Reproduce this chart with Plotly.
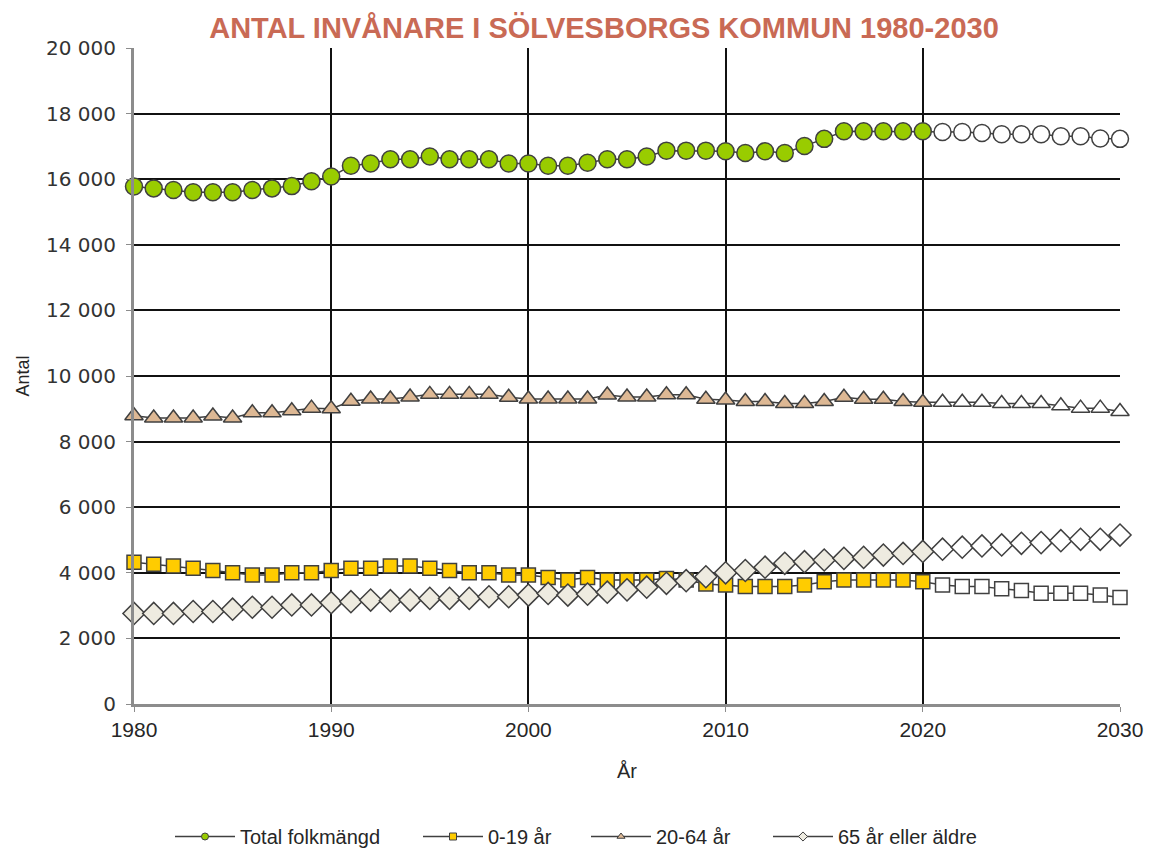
import plotly.graph_objects as go

years = list(range(1980, 2031))

total = [15780, 15720, 15670, 15600, 15600, 15600, 15670, 15720, 15790, 15940,
         16080, 16410, 16480, 16610, 16610, 16690, 16610, 16610, 16610, 16480,
         16480, 16410, 16410, 16500, 16610, 16610, 16690, 16870, 16870, 16870,
         16850, 16800, 16850, 16800, 17010, 17230, 17460, 17460, 17460, 17460,
         17460, 17440, 17440, 17410, 17370, 17370, 17370, 17310, 17310, 17240,
         17230]

age_0_19 = [4320, 4260, 4210, 4140, 4070, 4000, 3930, 3930, 4000, 4000,
            4070, 4140, 4140, 4210, 4210, 4140, 4070, 4000, 4000, 3930,
            3930, 3860, 3780, 3860, 3780, 3780, 3780, 3830, 3780, 3660,
            3630, 3580, 3580, 3580, 3630, 3730, 3780, 3780, 3780, 3780,
            3730, 3630, 3580, 3580, 3510, 3460, 3380, 3380, 3380, 3320,
            3250]

age_20_64 = [8790, 8720, 8720, 8720, 8780, 8720, 8880, 8880, 8940, 9020,
             9000, 9230, 9300, 9300, 9360, 9440, 9440, 9440, 9440, 9350,
             9300, 9300, 9300, 9300, 9420, 9360, 9360, 9430, 9430, 9290,
             9270, 9220, 9220, 9160, 9160, 9220, 9350, 9290, 9290, 9220,
             9200, 9200, 9200, 9200, 9160, 9160, 9160, 9090, 9020, 9020,
             8920]

age_65 = [2760, 2760, 2760, 2820, 2820, 2890, 2950, 2950, 3020, 3020,
          3090, 3120, 3170, 3150, 3170, 3220, 3220, 3220, 3270, 3270,
          3320, 3370, 3320, 3350, 3410, 3480, 3560, 3680, 3760, 3880,
          4000, 4070, 4170, 4290, 4340, 4390, 4440, 4470, 4540, 4590,
          4650, 4720, 4780, 4820, 4850, 4900, 4920, 4980, 5020, 5020,
          5150]

series_names = ["Total folkmängd", "0-19 år", "20-64 år", "65 år eller äldre"]
last_observed_year = 2020

title_text = "ANTAL INVÅNARE I SÖLVESBORGS KOMMUN 1980-2030"
x_title = "År"
y_title = "Antal"
x_ticks = [1980, 1990, 2000, 2010, 2020, 2030]
y_ticks = list(range(0, 20001, 2000))

LINE = "#404040"
TXT = "#262626"
NARROW = "Liberation Sans, Arial, sans-serif"
styles = [
    dict(symbol="circle", size=17, fill="#99CC00"),
    dict(symbol="square", size=14, fill="#FFCC00"),
    dict(symbol="triangle-up", size=16, fill="#DDB894"),
    dict(symbol="diamond", size=17, fill="#EEEBE0"),
]
legend_ids = ["legend", "legend2", "legend3", "legend4"]
legend_left_px = [180, 428, 596, 778]

fig = go.Figure()
for name, vals, st in zip(series_names, [total, age_0_19, age_20_64, age_65], styles):
    colors = [st["fill"] if y <= last_observed_year else "#FFFFFF" for y in years]
    fig.add_trace(go.Scatter(
        x=years, y=vals, mode="lines+markers", name=name, showlegend=False,
        line=dict(color=LINE, width=1.5),
        marker=dict(symbol=st["symbol"], size=st["size"], color=colors,
                    line=dict(color=LINE, width=1.5)),
        cliponaxis=False,
    ))
for name, st, lid in zip(series_names, styles, legend_ids):
    fig.add_trace(go.Scatter(
        x=[None], y=[None], mode="lines+markers", name=name, showlegend=True,
        legend=lid,
        line=dict(color=LINE, width=1.5),
        marker=dict(symbol=st["symbol"], size=7, color=st["fill"],
                    line=dict(color=LINE, width=1)),
    ))

legend_layout = {}
for lid, px in zip(legend_ids, legend_left_px):
    legend_layout[lid] = dict(
        orientation="h", xref="container", yref="container",
        x=(px - 8 - 10) / 1152, xanchor="left", y=0.0, yanchor="bottom",
        font=dict(family=NARROW, size=20, color=TXT),
        itemwidth=60, bgcolor="rgba(0,0,0,0)")

fig.update_layout(
    width=1152, height=848,
    paper_bgcolor="white", plot_bgcolor="white",
    margin=dict(l=126, r=40, t=40, b=152),
    separators=", ",
    title=dict(text=title_text, x=(604 - 8) / 1152, xanchor="center",
               y=1 - (28 - 8) / 848, yanchor="middle",
               font=dict(family=NARROW, size=29, color="#C96A55", weight="bold")),
    showlegend=True,
    **legend_layout,
)
fig.update_xaxes(range=[1980, 2030], tickvals=x_ticks,
                 showgrid=True, gridcolor="#111111", gridwidth=1.5,
                 showline=True, linecolor="#8C8C8C", linewidth=3,
                 ticks="outside", ticklen=5, tickcolor="#8C8C8C",
                 tickfont=dict(family=NARROW, size=21, color=TXT),
                 title=dict(text=x_title, font=dict(family=NARROW, size=20, color=TXT),
                            standoff=24),
                 zeroline=False, mirror=False)
fig.update_yaxes(range=[0, 20000], tickvals=y_ticks, tickformat=",d",
                 showgrid=True, gridcolor="#111111", gridwidth=1.5,
                 showline=True, linecolor="#8C8C8C", linewidth=3,
                 ticks="outside", ticklen=5, tickcolor="#8C8C8C",
                 ticklabelstandoff=6,
                 tickfont=dict(family="DejaVu Sans", size=20, color="#333333"),
                 title=dict(text=y_title, font=dict(family=NARROW, size=18, color=TXT),
                            standoff=12),
                 zeroline=False)

fig.write_html("out.html")
